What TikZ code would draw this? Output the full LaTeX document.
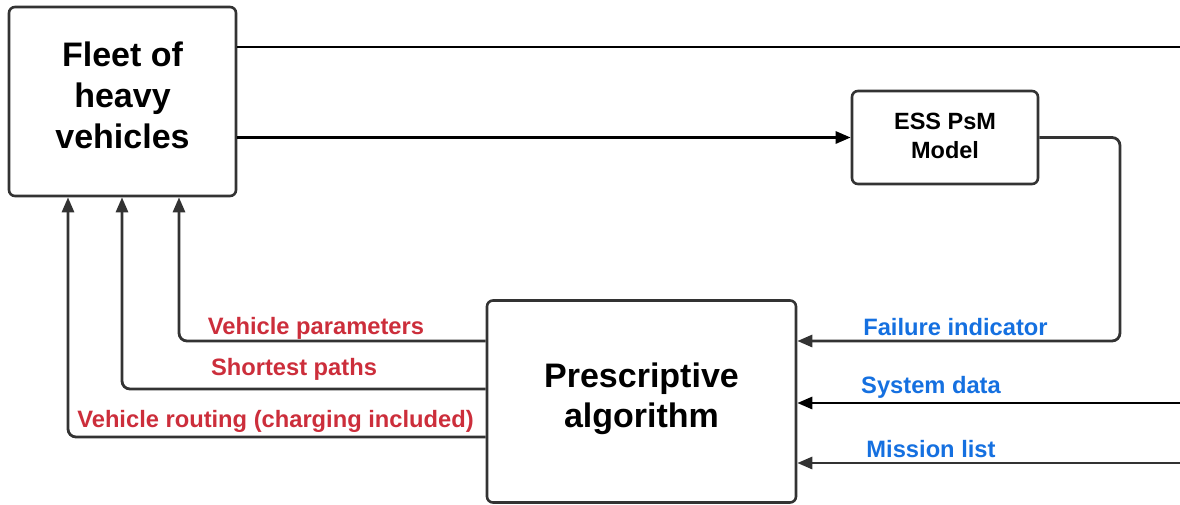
\documentclass[tikz,border=0pt]{standalone}
\usepackage{fontspec}
\setmainfont{Liberation Sans}
\usetikzlibrary{arrows.meta}
\definecolor{lc}{HTML}{333333}
\definecolor{lred}{HTML}{CC2E3B}
\definecolor{lblue}{HTML}{1570E0}
\tikzset{
  box/.style={draw=lc, line width=2.6pt, rounded corners=6pt, fill=white, align=center, font=\bfseries, inner sep=0pt},
  conn/.style={draw=lc, line width=2.8pt, rounded corners=8pt},
  blk/.style={draw=black},
  arr/.style={conn, -{Triangle[length=15pt,width=12pt]}},
  redlab/.style={text=lred, font=\bfseries\fontsize{23.7}{28}\selectfont, inner sep=0pt},
  bluelab/.style={text=lblue, font=\bfseries\fontsize{23.7}{28}\selectfont, inner sep=0pt}
}
\begin{document}
\begin{tikzpicture}[x=1pt,y=-1pt]
\useasboundingbox (0,0) rectangle (1180,504);
\node[box, minimum width=227pt, minimum height=189pt, text depth=12pt, font=\bfseries\fontsize{34}{41}\selectfont] (fleet) at (122.5,101.5) {Fleet of\\heavy\\vehicles};
\node[box, minimum width=186pt, minimum height=93pt, text depth=4pt, font=\bfseries\fontsize{23.5}{29}\selectfont] (ess) at (945,137.5) {ESS PsM\\Model};
\node[box, minimum width=309pt, minimum height=202pt, text depth=13pt, font=\bfseries\fontsize{34}{40}\selectfont] (presc) at (641.5,401.5) {Prescriptive\\algorithm};
% free ends at the right edge
\coordinate (top) at (1180,47);
\coordinate (sys) at (1180,403);
\coordinate (mis) at (1180,463);
% corner coordinates
\coordinate (fcorner) at (1120,341);
\coordinate (vp) at (179,341);
\coordinate (sp) at (122,389);
\coordinate (vr) at (68,437);
% top line
\draw[conn, blk] (fleet.east |- top) -- (top);
% to ESS
\draw[arr, blk] (fleet.east |- ess) -- (ess.west);
% ESS to prescriptive (failure indicator)
\draw[arr] (ess.east) -| (fcorner) -- (presc.east |- fcorner);
% system data, mission list
\draw[arr, blk] (sys) -- (presc.east |- sys);
\draw[arr] (mis) -- (presc.east |- mis);
% outputs to fleet
\draw[arr] (presc.west |- vp) -| (fleet.south -| vp);
\draw[arr] (presc.west |- sp) -| (fleet.south -| sp);
\draw[arr] (presc.west |- vr) -| (fleet.south -| vr);
% labels
\node[redlab] (lvp) at (316,328) {Vehicle parameters};
\node[redlab] (lsp) at (294,369) {Shortest paths};
\node[redlab] (lvr) at (275.5,421) {Vehicle routing (charging included)};
\node[bluelab] (lfi) at (955.5,327) {Failure indicator};
\node[bluelab] (lsd) at (931,387) {System data};
\node[bluelab] (lml) at (931,449) {Mission list};
\end{tikzpicture}
\end{document}
